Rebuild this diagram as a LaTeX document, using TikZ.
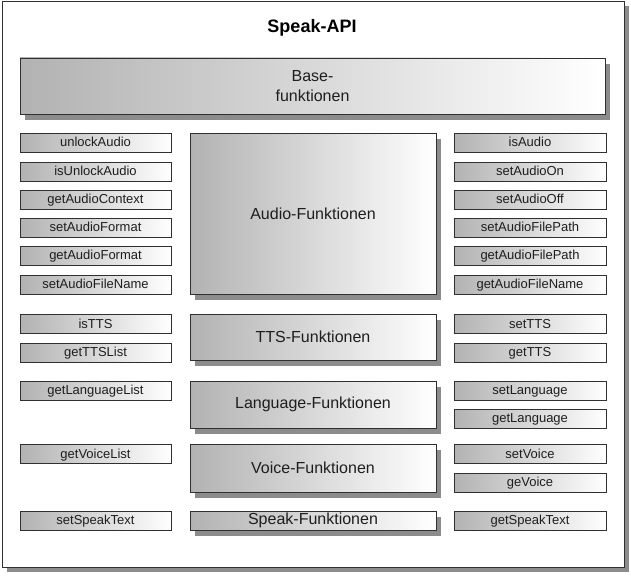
\documentclass[tikz,border=0pt]{standalone}
\usepackage{fontspec}
\setmainfont{Liberation Sans}
\usetikzlibrary{shadows}
\definecolor{boxline}{HTML}{303030}
\definecolor{shadegray}{HTML}{B2B2B2}
\definecolor{shadowgray}{HTML}{8C8C8C}
\definecolor{textdark}{HTML}{1E1E1E}
\tikzset{
  framebox/.style={draw=boxline, line width=0.9pt, fill=white, inner sep=0pt,
    drop shadow={shadow xshift=5pt, shadow yshift=-5pt, fill=shadowgray, opacity=1}},
  funcbox/.style={draw=boxline, line width=0.8pt, inner sep=0pt, outer sep=0pt,
    left color=shadegray, right color=white, text=textdark,
    font=\fontsize{13pt}{15pt}\selectfont, minimum height=19pt,
    text height=9.4pt, text depth=0.6pt},
  leftfn/.style={funcbox, minimum width=151pt},
  rightfn/.style={funcbox, minimum width=152pt},
  groupbox/.style={draw=boxline, line width=0.8pt, inner sep=0pt, outer sep=0pt,
    left color=shadegray, right color=white, text=textdark,
    font=\fontsize{16pt}{20pt}\selectfont, align=center,
    drop shadow={shadow xshift=5pt, shadow yshift=-6pt, fill=shadowgray, opacity=1}},
  midbox/.style={groupbox, minimum width=246pt},
}
\begin{document}
\begin{tikzpicture}[x=1pt, y=-1pt]
\useasboundingbox (0,0) rectangle (631,575);

% outer frame and title
\node[framebox, minimum width=622pt, minimum height=566pt] (frame) at (313,284) {};
\node[font=\bfseries\fontsize{18pt}{22pt}\selectfont] (title) at (312,28) {Speak-API};

% base functions
\node[groupbox, minimum width=585pt, minimum height=56pt] (base) at (312.5,86) {Base-\\funktionen};

% audio group
\node[midbox, minimum height=161pt] (audio) at (313,213.5) {Audio-Funktionen};
\node[leftfn] (unlock)    at (95.5,142.5) {unlockAudio};
\node[leftfn] (isunlock)  at (95.5,171.5) {isUnlockAudio};
\node[leftfn] (context)   at (95.5,199.5) {getAudioContext};
\node[leftfn] (setformat) at (95.5,227.5) {setAudioFormat};
\node[leftfn] (getformat) at (95.5,255.5) {getAudioFormat};
\node[leftfn] (setfname)  at (95.5,284.5) {setAudioFileName};
\node[rightfn] (isaudio)  at (530,142.5) {isAudio};
\node[rightfn] (audioon)  at (530,171.5) {setAudioOn};
\node[rightfn] (audiooff) at (530,199.5) {setAudioOff};
\node[rightfn] (setpath)  at (530,227.5) {setAudioFilePath};
\node[rightfn] (getpath)  at (530,255.5) {getAudioFilePath};
\node[rightfn] (getfname) at (530,284.5) {getAudioFileName};

% TTS group
\node[midbox, minimum height=46pt] (tts) at (313,337) {TTS-Funktionen};
\node[leftfn] (istts)    at (95.5,324) {isTTS};
\node[leftfn] (ttslist)  at (95.5,352.5) {getTTSList};
\node[rightfn] (settts)  at (530,324) {setTTS};
\node[rightfn] (gettts)  at (530,352.5) {getTTS};

% language group
\node[midbox, minimum height=47pt] (lang) at (313,404.5) {Language-Funktionen};
\node[leftfn] (langlist) at (95.5,390.5) {getLanguageList};
\node[rightfn] (setlang) at (530,390.5) {setLanguage};
\node[rightfn] (getlang) at (530,418.5) {getLanguage};

% voice group
\node[midbox, minimum height=48pt] (voice) at (313,468) {Voice-Funktionen};
\node[leftfn] (voicelist) at (95.5,454) {getVoiceList};
\node[rightfn] (setvoice) at (530,454) {setVoice};
\node[rightfn] (gevoice)  at (530,482.5) {geVoice};

% speak group
\node[midbox, minimum height=19pt] (speak) at (313,520.5) {Speak-Funktionen};
\node[leftfn] (setspeak) at (95.5,520.5) {setSpeakText};
\node[rightfn] (getspeak) at (530,520.5) {getSpeakText};
\end{tikzpicture}
\end{document}
